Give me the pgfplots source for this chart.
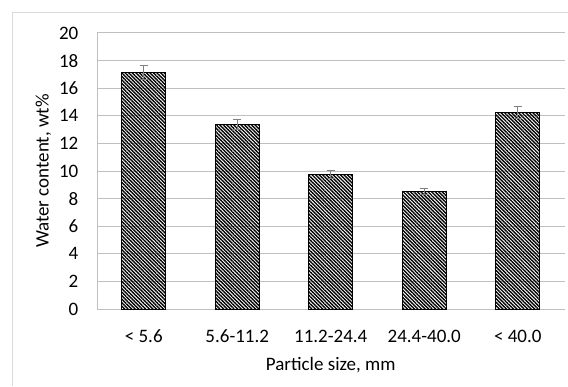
\documentclass[border=0pt]{standalone}
\usepackage{pgfplots}
\pgfplotsset{compat=1.18}
\usepackage{fontspec}
\setmainfont{Carlito}
\usetikzlibrary{patterns.meta}
\definecolor{gridgray}{HTML}{BFBFBF}
\definecolor{bordergray}{HTML}{D9D9D9}
\definecolor{errgray}{HTML}{7F7F7F}
\begin{document}
\begin{tikzpicture}
\fontsize{19}{23}\selectfont
\draw[bordergray, line width=1pt] (12pt,0pt) -- (12pt,373pt) -- (568pt,373pt);
\begin{axis}[
  scale only axis,
  width=467.5pt, height=276pt,
  at={(97pt,77pt)}, anchor=south west,
  xmin=-0.5, xmax=4.5,
  ymin=0, ymax=20,
  ytick={0,2,...,20},
  xtick={0,1,2,3,4},
  xticklabels={{< 5.6},{5.6-11.2},{11.2-24.4},{24.4-40.0},{< 40.0}},
  major tick length=0pt,
  axis x line*=bottom, axis y line*=left,
  axis line style={gridgray, line width=1pt, -},
  ymajorgrids, grid style={gridgray, line width=1pt},
  /pgf/number format/assume math mode=true,
  tick label style={font=\fontsize{19}{23}\selectfont, text=black},
  yticklabel style={anchor=east, inner sep=0pt, xshift=-18.5pt},
  xticklabel style={anchor=base, inner sep=0pt, yshift=-33pt},
  xlabel={Particle size, mm},
  ylabel={Water content, wt\%},
  label style={font=\fontsize{19}{23}\selectfont},
  xlabel style={at={(axis description cs:0.5,0)}, anchor=base, inner sep=0pt, yshift=-61pt},
  ylabel style={at={(axis description cs:-0.1037,0.5)}, anchor=base, inner sep=0pt, rotate=0},
  clip=false,
]
\addplot[ybar, bar width=44pt, draw=black, line width=0.8pt,
  pattern={Lines[angle=-45,distance=2.5pt,line width=1.4pt]}, pattern color=black,
  error bars/.cd, y dir=both, y explicit,
  error bar style={errgray, line width=1pt},
  error mark options={errgray, line width=1pt, mark size=4pt, rotate=90}]
  coordinates {
  (0,17.12) +- (0,0.5)
  (1,13.38) +- (0,0.37)
  (2,9.75) +- (0,0.27)
  (3,8.5) +- (0,0.22)
  (4,14.27) +- (0,0.43)
  };
\end{axis}
\pgfresetboundingbox
\path[use as bounding box] (0pt,0pt) rectangle (568pt,386pt);
\end{tikzpicture}
\end{document}
